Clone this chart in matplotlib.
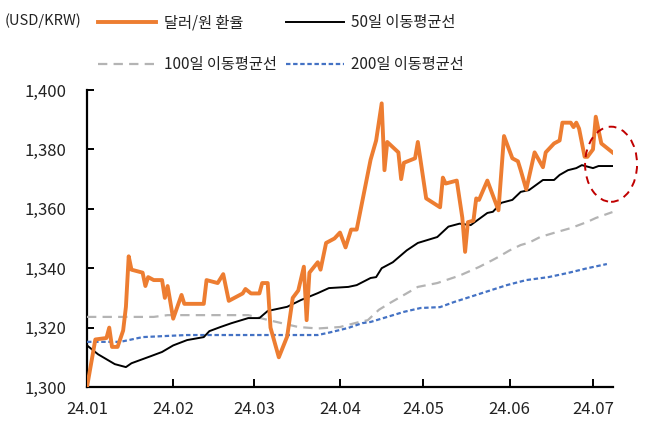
import pandas as pd
import matplotlib
matplotlib.use("Agg")
from matplotlib import pyplot as plt
import matplotlib.dates as mdates
from matplotlib.patches import Ellipse
from matplotlib.ticker import FuncFormatter

plt.rcParams['font.family'] = ['Noto Sans CJK KR', 'DejaVu Sans']

base = pd.Timestamp('2024-01-01')

# 달러/원 환율 (days since 2024-01-01, value)
fx_days = [0, 3, 7, 8, 9, 11, 13, 14, 15, 16, 20, 21, 22, 24, 27, 28, 29, 31, 34, 35,
           42, 43, 47, 49, 51, 56, 57, 59, 62, 63, 65, 66, 69, 72, 74, 76, 78, 79, 80, 83,
           84, 86, 89, 91, 93, 95, 97, 102, 104, 106, 107, 108, 112, 113, 114, 118, 119, 122, 127, 128,
           129, 133, 135, 136, 137, 139, 140, 141, 144, 148, 150, 153, 155, 156, 158, 161, 164, 165, 168, 170,
           171, 174, 175, 176, 177, 179, 180, 182, 183, 185, 189]
fx_vals = [1300, 1316, 1316.5, 1320, 1313.5, 1313.5, 1319, 1327, 1344, 1339.5, 1338.5, 1334, 1337, 1336, 1336, 1330, 1334, 1323, 1331, 1328,
           1328, 1336, 1335, 1338, 1329, 1331.5, 1333, 1331.5, 1331.5, 1335, 1335, 1320, 1310, 1317, 1330, 1332.5, 1340.5, 1322.5, 1338.5, 1342,
           1339.5, 1348.5, 1350, 1352, 1347, 1353, 1353, 1376.5, 1383, 1395.5, 1373, 1382.5, 1379, 1370, 1375.5, 1377, 1382.5, 1363.5, 1360.5, 1370.5,
           1368.5, 1369.5, 1357, 1345.5, 1355.5, 1356, 1363.5, 1363, 1369.5, 1359.5, 1384.5, 1377, 1376, 1373, 1366.5, 1379, 1374, 1379, 1382, 1383,
           1389, 1389, 1387.5, 1389, 1387, 1377.5, 1377.5, 1380, 1391, 1382, 1379]

# 50일 이동평균선
ma50_days = [0, 4, 10, 14, 16, 23, 27, 31, 36, 42, 44, 48, 52, 58, 62, 65, 72, 77, 83, 87,
             94, 97, 102, 104, 106, 110, 115, 119, 126, 130, 134, 138, 144, 146, 149, 153, 156, 159, 164, 168,
             170, 173, 176, 178, 182, 184, 189]
ma50_vals = [1314, 1311, 1307.7, 1306.7, 1308, 1310.4, 1311.8, 1314, 1315.8, 1316.8, 1318.8, 1320.2, 1321.5, 1323.2, 1323.2, 1325.6, 1327, 1329.3, 1331.6, 1333.3,
             1333.7, 1334.3, 1336.7, 1337, 1340, 1342, 1346, 1348.5, 1350.5, 1354, 1355, 1354.5, 1358.6, 1359, 1362, 1363, 1365.7, 1366.3, 1369.7, 1369.7,
             1371.4, 1373, 1373.7, 1374.7, 1373.7, 1374.4, 1374.4]

# 100일 이동평균선
ma100_days = [0, 24, 29, 58, 65, 70, 76, 83, 91, 98, 101, 105, 109, 119, 126, 134, 141, 146, 148, 152,
              156, 159, 163, 168, 174, 180, 183, 189]
ma100_vals = [1323.6, 1323.6, 1324.2, 1324.2, 1322.6, 1321.5, 1320.2, 1319.7, 1320.2, 1321.9, 1322.5, 1326, 1328.3, 1333.7, 1335, 1337.5, 1340.4, 1342.8, 1343.8, 1346,
              1347.8, 1348.6, 1350.5, 1351.9, 1353.5, 1355.6, 1356.9, 1358.9]

# 200일 이동평균선
ma200_days = [0, 12, 17, 20, 29, 36, 83, 87, 91, 94, 99, 102, 114, 120, 127, 132, 140, 151, 158, 166,
              173, 180, 187]
ma200_vals = [1315.2, 1315.2, 1316.2, 1316.8, 1317.2, 1317.5, 1317.5, 1318.3, 1319.2, 1319.9, 1321.5, 1321.9, 1325.3, 1326.6, 1326.9, 1328.6, 1331, 1334.3, 1336, 1337,
              1338.4, 1340, 1341.4]

def to_dates(days):
    return base + pd.to_timedelta(days, unit='D')

fig = plt.figure(figsize=(6.48, 4.30), dpi=100)
ax = fig.add_axes([87 / 648, 1 - 387 / 430, (613 - 87) / 648, (387 - 90) / 430])

l_fx, = ax.plot(to_dates(fx_days), fx_vals, c='#ED7D31', lw=2.8, label='달러/원 환율', solid_joinstyle='round', zorder=5)
l_50, = ax.plot(to_dates(ma50_days), ma50_vals, c='k', lw=1.4, label='50일 이동평균선', zorder=4)
l_100, = ax.plot(to_dates(ma100_days), ma100_vals, c='#B4B4B4', lw=1.6, dashes=(4.2, 2.8), label='100일 이동평균선', zorder=3)
l_200, = ax.plot(to_dates(ma200_days), ma200_vals, c='#4472C4', lw=1.6, dashes=(2.0, 1.2), label='200일 이동평균선', zorder=3)

x0 = mdates.date2num(base)
ax.add_patch(Ellipse((x0 + 188.5, 1375), 18.7, 25.3, fill=False, ec='#C00000', lw=1.4,
                     ls=(0, (4, 3)), clip_on=False, zorder=6))

ax.set_xlim(x0, x0 + 189.2)
ax.set_ylim(1300, 1400)
ax.set_yticks([1300, 1320, 1340, 1360, 1380, 1400])
ax.yaxis.set_major_formatter(FuncFormatter(lambda v, p: f'{v:,.0f}'))
ax.xaxis.set_major_locator(mdates.MonthLocator())
ax.xaxis.set_major_formatter(mdates.DateFormatter('%y.%m'))

for s in ['top', 'right']:
    ax.spines[s].set_visible(False)
for s in ['left', 'bottom']:
    ax.spines[s].set_linewidth(1.6)
ax.tick_params(axis='y', direction='in', length=5, width=1.4, pad=15, labelsize=12)
ax.tick_params(axis='x', direction='in', length=6, width=1.4, pad=10, labelsize=12)
ax.tick_params(colors='k', which='both', labelcolor='#222222')

fig.text(5 / 648, 1 - 21 / 430, '(USD/KRW)', fontsize=10.5, va='center', ha='left', color='#222222')
# column-wise fill, so order handles to read row by row
ax.legend([l_fx, l_100, l_50, l_200],
          ['달러/원 환율', '100일 이동평균선', '50일 이동평균선', '200일 이동평균선'],
          loc='upper left', bbox_to_anchor=(98 / 648, 1 - 14 / 430), bbox_transform=fig.transFigure,
          ncol=2, frameon=False, fontsize=11, handlelength=3.8, handletextpad=0.5,
          columnspacing=0.6, labelspacing=1.65, borderpad=0, borderaxespad=0,
          labelcolor='#222222')

plt.savefig('out.png', dpi=100)
